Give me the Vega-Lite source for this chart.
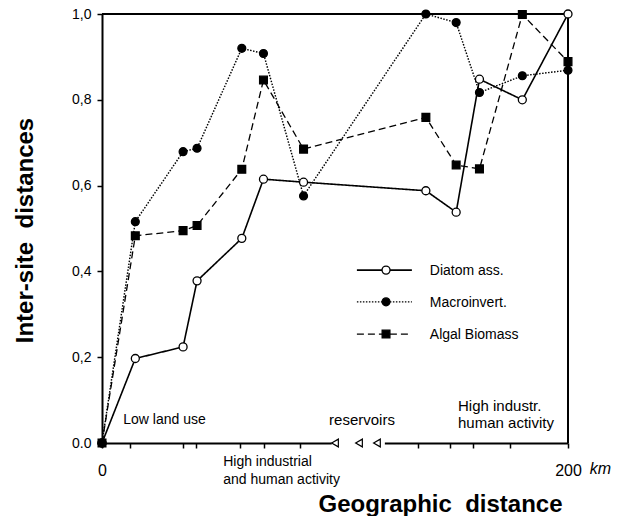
{
  "$schema": "https://vega.github.io/schema/vega-lite/v6.json",
  "width": 466,
  "height": 429,
  "autosize": {"type": "none"},
  "padding": {"left": 102, "top": 14, "right": 49, "bottom": 73},
  "background": "white",
  "config": {
    "view": {"stroke": null},
    "font": "Liberation Sans",
    "axis": {
      "grid": false,
      "domainColor": "black",
      "domainWidth": 2,
      "tickColor": "black",
      "tickWidth": 1.5,
      "tickSize": 5,
      "labelColor": "black",
      "titleColor": "black",
      "labelFont": "Liberation Sans",
      "titleFont": "Liberation Sans",
      "labelOverlap": false
    }
  },
  "datasets": {
    "main": [
      {"series": "Diatom ass.", "km": 0, "d": 0},
      {"series": "Diatom ass.", "km": 14.3, "d": 0.197},
      {"series": "Diatom ass.", "km": 34.8, "d": 0.224},
      {"series": "Diatom ass.", "km": 40.8, "d": 0.378},
      {"series": "Diatom ass.", "km": 60, "d": 0.477},
      {"series": "Diatom ass.", "km": 69.3, "d": 0.615},
      {"series": "Diatom ass.", "km": 86.5, "d": 0.608},
      {"series": "Diatom ass.", "km": 139, "d": 0.588},
      {"series": "Diatom ass.", "km": 152, "d": 0.538},
      {"series": "Diatom ass.", "km": 162, "d": 0.848},
      {"series": "Diatom ass.", "km": 180.4, "d": 0.8},
      {"series": "Diatom ass.", "km": 200, "d": 1.0},
      {"series": "Macroinvert.", "km": 0, "d": 0},
      {"series": "Macroinvert.", "km": 14.3, "d": 0.516},
      {"series": "Macroinvert.", "km": 34.8, "d": 0.679},
      {"series": "Macroinvert.", "km": 40.8, "d": 0.687},
      {"series": "Macroinvert.", "km": 60, "d": 0.92},
      {"series": "Macroinvert.", "km": 69.3, "d": 0.908},
      {"series": "Macroinvert.", "km": 86.5, "d": 0.576},
      {"series": "Macroinvert.", "km": 139, "d": 1.0},
      {"series": "Macroinvert.", "km": 152, "d": 0.98},
      {"series": "Macroinvert.", "km": 162, "d": 0.817},
      {"series": "Macroinvert.", "km": 180.4, "d": 0.856},
      {"series": "Macroinvert.", "km": 200, "d": 0.869},
      {"series": "Algal Biomass", "km": 0, "d": 0},
      {"series": "Algal Biomass", "km": 14.3, "d": 0.483},
      {"series": "Algal Biomass", "km": 34.8, "d": 0.495},
      {"series": "Algal Biomass", "km": 40.8, "d": 0.507},
      {"series": "Algal Biomass", "km": 60, "d": 0.638},
      {"series": "Algal Biomass", "km": 69.3, "d": 0.846},
      {"series": "Algal Biomass", "km": 86.5, "d": 0.685},
      {"series": "Algal Biomass", "km": 139, "d": 0.759},
      {"series": "Algal Biomass", "km": 152, "d": 0.648},
      {"series": "Algal Biomass", "km": 162, "d": 0.639},
      {"series": "Algal Biomass", "km": 180.4, "d": 0.999},
      {"series": "Algal Biomass", "km": 200, "d": 0.889}
    ],
    "legendLines": [
      {"series": "Diatom ass.", "km": 109.4, "d": 0.403},
      {"series": "Diatom ass.", "km": 133, "d": 0.403},
      {"series": "Macroinvert.", "km": 109.4, "d": 0.329},
      {"series": "Macroinvert.", "km": 133, "d": 0.329},
      {"series": "Algal Biomass", "km": 109.4, "d": 0.254},
      {"series": "Algal Biomass", "km": 133, "d": 0.254}
    ],
    "legendItems": [
      {"series": "Diatom ass.", "km": 121.9, "tx": 140.7, "d": 0.403},
      {"series": "Macroinvert.", "km": 121.9, "tx": 140.7, "d": 0.329},
      {"series": "Algal Biomass", "km": 121.9, "tx": 140.7, "d": 0.254}
    ]
  },
  "layer": [
    {
      "data": {"values": [{"km": 98.6, "km2": 121.4, "d": 0}]},
      "mark": {"type": "rule", "color": "white", "strokeWidth": 5},
      "encoding": {
        "x": {"field": "km", "type": "quantitative"},
        "x2": {"field": "km2"},
        "y": {"field": "d", "type": "quantitative"}
      }
    },
    {
      "data": {"values": [{"km": 100}, {"km": 110.3}, {"km": 118}]},
      "mark": {"type": "point", "shape": "triangle-left", "filled": true, "fill": "white", "stroke": "black", "strokeWidth": 1.2, "size": 60, "opacity": 1},
      "encoding": {
        "x": {"field": "km", "type": "quantitative"},
        "y": {"datum": 0, "type": "quantitative"}
      }
    },
    {
      "data": {"values": [{"km": 0, "km2": 200, "d": 1, "d2": 1}, {"km": 200, "km2": 200, "d": 0, "d2": 1}]},
      "mark": {"type": "rule", "color": "black", "strokeWidth": 2},
      "encoding": {
        "x": {"field": "km", "type": "quantitative"},
        "x2": {"field": "km2"},
        "y": {"field": "d", "type": "quantitative"},
        "y2": {"field": "d2"}
      }
    },
    {
      "data": {"name": "main"},
      "mark": {"type": "line", "color": "black"},
      "encoding": {
        "x": {
          "field": "km", "type": "quantitative",
          "scale": {"domain": [0, 200], "nice": false, "zero": false},
          "axis": {
            "values": [0, 12, 34.7, 40.4, 59.3, 69.6, 85.1, 135.6, 149.3, 159.2, 175, 200],
            "labelExpr": "datum.value == 0 ? '0' : (datum.value == 200 ? '200' : '')",
            "labelFlush": false,
            "labelFontSize": 16,
            "labelBaseline": "alphabetic",
            "labelPadding": 27,
            "title": "Geographic\u00a0 distance",
            "titleFontSize": 24,
            "titleFontWeight": "bold",
            "titleX": 338,
            "titleY": 68,
            "titleAlign": "center",
            "titleBaseline": "alphabetic"
          }
        },
        "y": {
          "field": "d", "type": "quantitative",
          "scale": {"domain": [0, 1], "nice": false},
          "axis": {
            "values": [0, 0.2, 0.4, 0.6, 0.8, 1],
            "labelExpr": "datum.value == 0 ? '0.0' : replace(format(datum.value, '.1f'), '.', ',')",
            "labelFontSize": 14,
            "labelPadding": 6,
            "title": "Inter-site\u00a0 distances",
            "titleFontSize": 24,
            "titleFontWeight": "bold",
            "titleAngle": -90,
            "titleX": -70,
            "titleY": 216,
            "titleAlign": "center",
            "titleBaseline": "alphabetic"
          }
        },
        "detail": {"field": "series", "type": "nominal"},
        "strokeDash": {
          "field": "series", "type": "nominal", "legend": null,
          "scale": {"domain": ["Diatom ass.", "Macroinvert.", "Algal Biomass"], "range": [[1, 0], [1.5, 1.5], [7, 4]]}
        },
        "strokeWidth": {
          "field": "series", "type": "nominal", "legend": null,
          "scale": {"domain": ["Diatom ass.", "Macroinvert.", "Algal Biomass"], "range": [1.6, 1.3, 1.8]}
        }
      }
    },
    {
      "data": {"name": "main"},
      "mark": {"type": "point", "filled": true, "stroke": "black", "strokeWidth": 1.3, "opacity": 1},
      "encoding": {
        "x": {"field": "km", "type": "quantitative"},
        "y": {"field": "d", "type": "quantitative"},
        "shape": {
          "field": "series", "type": "nominal", "legend": null,
          "scale": {"domain": ["Diatom ass.", "Macroinvert.", "Algal Biomass"], "range": ["circle", "circle", "square"]}
        },
        "fill": {
          "field": "series", "type": "nominal", "legend": null,
          "scale": {"domain": ["Diatom ass.", "Macroinvert.", "Algal Biomass"], "range": ["white", "black", "black"]}
        },
        "size": {
          "field": "series", "type": "nominal", "legend": null,
          "scale": {"domain": ["Diatom ass.", "Macroinvert.", "Algal Biomass"], "range": [64, 60, 70]}
        }
      }
    },
    {
      "data": {"name": "legendLines"},
      "mark": {"type": "line", "color": "black"},
      "encoding": {
        "x": {"field": "km", "type": "quantitative"},
        "y": {"field": "d", "type": "quantitative"},
        "detail": {"field": "series", "type": "nominal"},
        "strokeDash": {"field": "series", "type": "nominal", "legend": null},
        "strokeWidth": {"field": "series", "type": "nominal", "legend": null}
      }
    },
    {
      "data": {"name": "legendItems"},
      "mark": {"type": "point", "filled": true, "stroke": "black", "strokeWidth": 1.3, "opacity": 1},
      "encoding": {
        "x": {"field": "km", "type": "quantitative"},
        "y": {"field": "d", "type": "quantitative"},
        "shape": {"field": "series", "type": "nominal", "legend": null},
        "fill": {"field": "series", "type": "nominal", "legend": null},
        "size": {"field": "series", "type": "nominal", "legend": null}
      }
    },
    {
      "data": {"name": "legendItems"},
      "mark": {"type": "text", "align": "left", "baseline": "middle", "font": "Liberation Sans", "fontSize": 14, "color": "black", "dy": 1},
      "encoding": {
        "x": {"field": "tx", "type": "quantitative"},
        "y": {"field": "d", "type": "quantitative"},
        "text": {"field": "series"}
      }
    },
    {
      "data": {"values": [
        {"label": "Low land use", "km": 9.1, "d": 0.044},
        {"label": "High industrial", "km": 52, "d": -0.053},
        {"label": "and human activity", "km": 52, "d": -0.096}
      ]},
      "mark": {"type": "text", "align": "left", "baseline": "alphabetic", "fontSize": 14, "color": "black"},
      "encoding": {
        "x": {"field": "km", "type": "quantitative"},
        "y": {"field": "d", "type": "quantitative"},
        "text": {"field": "label"}
      }
    },
    {
      "data": {"values": [
        {"label": "reservoirs", "km": 111.6, "d": 0.042}
      ]},
      "mark": {"type": "text", "align": "center", "baseline": "alphabetic", "fontSize": 15, "color": "black"},
      "encoding": {
        "x": {"field": "km", "type": "quantitative"},
        "y": {"field": "d", "type": "quantitative"},
        "text": {"field": "label"}
      }
    },
    {
      "data": {"values": [
        {"label": "High industr.", "km": 152.8, "d": 0.075},
        {"label": "human activity", "km": 152.8, "d": 0.035}
      ]},
      "mark": {"type": "text", "align": "left", "baseline": "alphabetic", "fontSize": 15, "color": "black"},
      "encoding": {
        "x": {"field": "km", "type": "quantitative"},
        "y": {"field": "d", "type": "quantitative"},
        "text": {"field": "label"}
      }
    },
    {
      "data": {"values": [
        {"label": "km", "km": 209.3, "d": -0.073}
      ]},
      "mark": {"type": "text", "align": "left", "baseline": "alphabetic", "fontSize": 16, "fontStyle": "italic", "color": "black"},
      "encoding": {
        "x": {"field": "km", "type": "quantitative"},
        "y": {"field": "d", "type": "quantitative"},
        "text": {"field": "label"}
      }
    }
  ]
}
